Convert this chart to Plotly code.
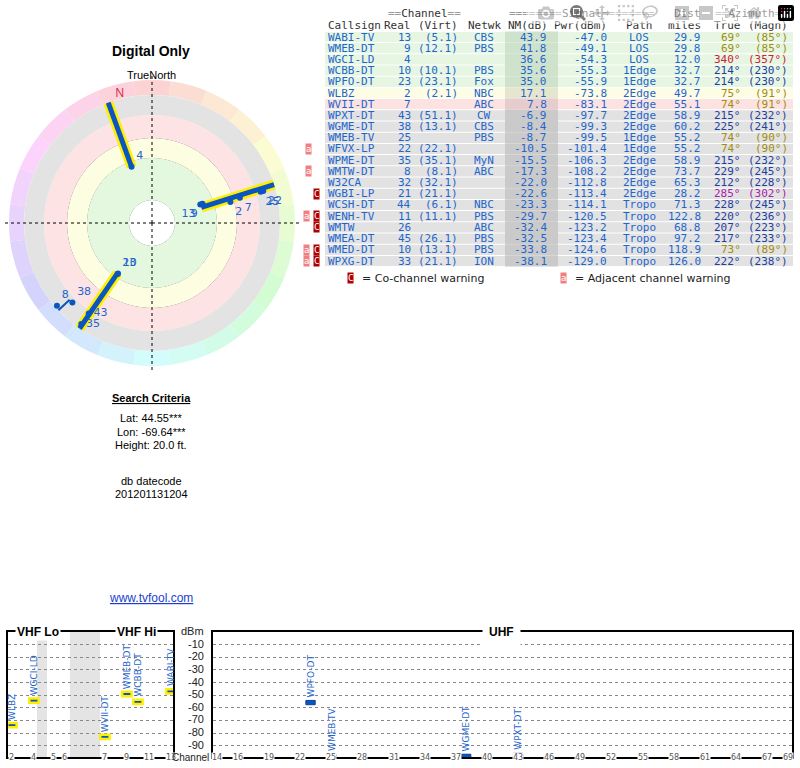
import colorsys
import plotly.graph_objects as go

# station table data
callsign = ["WABI-TV", "WMEB-DT", "WGCI-LD", "WCBB-DT", "WPFO-DT", "WLBZ", "WVII-DT", "WPXT-DT",
            "WGME-DT", "WMEB-TV", "WFVX-LP", "WPME-DT", "WMTW-DT", "W32CA", "WGBI-LP", "WCSH-DT",
            "WENH-TV", "WMTW", "WMEA-DT", "WMED-DT", "WPXG-DT"]
real_ch = [13, 9, 4, 10, 23, 2, 7, 43, 38, 25, 22, 35, 8, 32, 21, 44, 11, 26, 45, 10, 33]
virt_ch = ["(5.1)", "(12.1)", "", "(10.1)", "(23.1)", "(2.1)", "", "(51.1)", "(13.1)", "", "(22.1)",
           "(35.1)", "(8.1)", "(32.1)", "(21.1)", "(6.1)", "(11.1)", "", "(26.1)", "(13.1)", "(21.1)"]
network = ["CBS", "PBS", "", "PBS", "Fox", "NBC", "ABC", "CW", "CBS", "PBS", "", "MyN", "ABC", "", "",
           "NBC", "PBS", "ABC", "PBS", "PBS", "ION"]
nm_db = [43.9, 41.8, 36.6, 35.6, 35.0, 17.1, 7.8, -6.9, -8.4, -8.7, -10.5, -15.5, -17.3, -22.0, -22.6,
         -23.3, -29.7, -32.4, -32.5, -33.8, -38.1]
pwr_dbm = [-47.0, -49.1, -54.3, -55.3, -55.9, -73.8, -83.1, -97.7, -99.3, -99.5, -101.4, -106.3, -108.2,
           -112.8, -113.4, -114.1, -120.5, -123.2, -123.4, -124.6, -129.0]
path = ["LOS", "LOS", "LOS", "1Edge", "1Edge", "2Edge", "2Edge", "2Edge", "2Edge", "1Edge", "1Edge",
        "2Edge", "2Edge", "2Edge", "2Edge", "Tropo", "Tropo", "Tropo", "Tropo", "Tropo", "Tropo"]
dist_mi = [29.9, 29.8, 12.0, 32.7, 32.7, 49.7, 55.1, 58.9, 60.2, 55.2, 55.2, 58.9, 73.7, 65.3, 28.2,
           71.3, 122.8, 68.8, 97.2, 118.9, 126.0]
az_true = [69, 69, 340, 214, 214, 75, 74, 215, 225, 74, 74, 215, 229, 212, 285, 228, 220, 207, 217, 73, 222]
az_magn = [85, 85, 357, 230, 230, 91, 91, 232, 241, 90, 90, 232, 245, 228, 302, 245, 236, 223, 233, 89, 238]
warnings = ["", "", "", "", "", "", "", "", "", "", "a", "", "a", "", "C", "", "aC", "C", "", "aC", "aC"]

BLUE = "#1f66cc"
W, H = 800, 768


def X(px):
    return px / W


def Y(py):
    return 1 - py / H


fig = go.Figure()
shapes, ann = [], []


def text(x, y, s, size=11, color="black", xa="center", font="Liberation Sans", **kw):
    ann.append(dict(x=X(x), y=Y(y), xref="paper", yref="paper", text=s, showarrow=False,
                    xanchor=xa, yanchor="middle", font=dict(size=size, color=color, family=font), **kw))


# ---------- polar chart ----------
def radius(nm):
    return 100 - 1.1 * nm if nm >= 0 else 100 - 1.5 * nm


def hue_color(az):
    r, g, b = colorsys.hls_to_rgb((az % 360) / 360, 0.91, 0.9)
    return "rgb(%d,%d,%d)" % (r * 255, g * 255, b * 255)


sectors = list(range(0, 360, 15))
fig.add_trace(go.Barpolar(theta=sectors, r=[15] * 24, base=128, width=15,
                          marker=dict(color=[hue_color(a) for a in sectors], line_width=0), hoverinfo="skip"))
for r0, r1, col in [(0, 23, "white"), (23, 65, "#e4f8e0"), (65, 85, "#fdfde2"),
                    (85, 108, "#fde3e3"), (108, 128, "#e3e3e3")]:
    fig.add_trace(go.Barpolar(theta=[0], r=[r1 - r0], base=r0, width=360,
                              marker=dict(color=col, line_width=0), hoverinfo="skip"))
for a in [0, 90, 180, 270]:
    fig.add_trace(go.Scatterpolar(theta=[a, a], r=[0, 150], mode="lines",
                                  line=dict(color="black", width=1, dash="dot"), hoverinfo="skip"))

# stations on the polar plot (NM above -20 dB), grouped by direction
shown = [i for i in range(len(callsign)) if nm_db[i] > -20]
groups = []
for i in sorted(shown, key=lambda k: az_true[k]):
    if groups and az_true[i] - az_true[groups[-1][-1]] <= 6:
        groups[-1].append(i)
    else:
        groups.append([i])
for g in groups:
    az = sum(az_true[i] for i in g) / len(g)
    rmin = min(radius(nm_db[i]) for i in g)
    strong = max(nm_db[i] for i in g) > 0
    if strong:
        fig.add_trace(go.Scatterpolar(theta=[az, az], r=[rmin, 128], mode="lines",
                                      line=dict(color="#ffee00", width=10), hoverinfo="skip"))
    fig.add_trace(go.Scatterpolar(theta=[az, az], r=[rmin, 128], mode="lines",
                                  line=dict(color="#0a55c0", width=5 if strong else 2), hoverinfo="skip"))


def label_pos(i):
    a = az_true[i]
    if 60 < a < 90:
        return "bottom left" if nm_db[i] > 30 else "bottom right"
    if 200 < a < 220:
        return "top right" if nm_db[i] > 0 else "middle right"
    return "top right"


fig.add_trace(go.Scatterpolar(
    theta=[az_true[i] for i in shown], r=[radius(nm_db[i]) for i in shown], mode="markers+text",
    marker=dict(color="#0a55c0", size=6), text=[str(real_ch[i]) for i in shown],
    textposition=[label_pos(i) for i in shown],
    textfont=dict(color=BLUE, size=11, family="DejaVu Sans"), hoverinfo="skip"))
fig.add_trace(go.Scatterpolar(theta=[346], r=[133], mode="text", text=["N"],
                              textfont=dict(color="#dd2244", size=12), hoverinfo="skip"))

fig.update_layout(polar=dict(
    domain=dict(x=[X(2), X(302)], y=[Y(373), Y(73)]), bgcolor="rgba(0,0,0,0)", hole=0,
    radialaxis=dict(range=[0, 150], tickvals=[23, 45, 65, 85, 105, 125], showticklabels=False,
                    ticks="", showline=False, gridcolor="#444", gridwidth=1),
    angularaxis=dict(rotation=90, direction="clockwise", showgrid=False, showline=False,
                     showticklabels=False, ticks="")), barmode="overlay")

text(151, 51, "<b>Digital Only</b>", 14)
text(151, 75, "TrueNorth", 11)
text(151, 398, "<b><u>Search Criteria</u></b>", 11)
text(151, 418, "Lat: 44.55***", 11)
text(151, 432, "Lon: -69.64***", 11)
text(151, 445, "Height: 20.0 ft.", 11)
text(151, 481, "db datecode", 11)
text(151, 494, "201201131204", 11)
text(151, 598, "<u>www.tvfool.com</u>", 12, "#1a3fd0")

# ---------- table ----------
MONO = "DejaVu Sans Mono"
g_ = lambda s: '<span style="color:#999">%s</span>' % s
text(424, 13, g_("==") + "Channel" + g_("=="), 11, "#333", font=MONO)
text(582, 13, g_("========") + "Signal" + g_("========"), 11, "#333", font=MONO)
text(703, 13, "Dist", 11, "#333", "right", font=MONO)
text(790, 13, g_("==") + "Azimuth" + g_("=="), 11, "#333", "right", font=MONO)
for s, x, xa in [("Callsign", 326, "left"), ("Real", 413, "right"), ("(Virt)", 460, "right"),
                 ("Netwk", 484, "center"), ("NM(dB)", 550, "right"), ("Pwr(dBm)", 609, "right"),
                 ("Path", 639, "center"), ("miles", 703, "right"), ("True", 743, "right"),
                 ("(Magn)", 790, "right")]:
    text(x, 25, s, 11, "#333", xa, font=MONO)


def row_bg(nm):
    if nm >= 25:
        return "#e6f6e2", "#cfe2cc"
    if nm >= 15:
        return "#fdfde6", "#e6e6d0"
    if nm >= 0:
        return "#fde2e2", "#e6cccc"
    return "#e2e2e2", "#cacaca"


def az_color(a):
    if 60 < a < 90:
        return "#a08c10"
    if a > 330:
        return "#cc2233"
    if 270 < a < 300:
        return "#aa22aa"
    return "#1f3fa0"


for i in range(len(callsign)):
    yc = 37 + i * 11.2
    bg, nmbg = row_bg(nm_db[i])
    shapes.append(dict(type="rect", xref="paper", yref="paper", x0=X(325), x1=X(793),
                       y0=Y(yc + 5.1), y1=Y(yc - 5.1), fillcolor=bg, line_width=0, layer="below"))
    shapes.append(dict(type="rect", xref="paper", yref="paper", x0=X(505), x1=X(558),
                       y0=Y(yc + 5.6), y1=Y(yc - 5.6), fillcolor=nmbg, line_width=0, layer="below"))
    cells = [(callsign[i], 326, "left"), (str(real_ch[i]), 413, "right"), (virt_ch[i], 460, "right"),
             (network[i], 484, "center"), ("%.1f" % nm_db[i], 549, "right"),
             ("%.1f" % pwr_dbm[i], 609, "right"), (path[i], 639, "center"),
             ("%.1f" % dist_mi[i], 703, "right")]
    for s, x, xa in cells:
        if s:
            text(x, yc, s, 11, BLUE, xa, font=MONO)
    c = az_color(az_true[i])
    text(743, yc, "%d°" % az_true[i], 11, c, "right", font=MONO)
    text(790, yc, "(%d°)" % az_magn[i], 11, c, "right", font=MONO)
    w = warnings[i]
    if "C" in w:
        text(316, yc, "C", 9, "white", font=MONO, bgcolor="#b00000", borderpad=0)
    if "a" in w:
        text(306 if "C" in w else 308, yc, "a", 9, "white", font=MONO, bgcolor="#f08080", borderpad=0)

text(350, 278, "C", 9, "white", font=MONO, bgcolor="#b00000", borderpad=0)
text(360, 278, "= Co-channel warning", 11, "#222", "left", font="DejaVu Sans")
text(563, 278, "a", 9, "white", font=MONO, bgcolor="#f08080", borderpad=0)
text(573, 278, "= Adjacent channel warning", 11, "#222", "left", font="DejaVu Sans")

# ---------- spectrum bars ----------
vhf_ticks = [2, 4, 5, 6, 7, 9, 11, 13]
uhf_ticks = [14, 16, 19, 22, 25, 28, 31, 34, 37, 40, 43, 46, 49, 52, 55, 58, 61, 64, 67, 69]


def vpos(ch):
    if ch <= 4:
        return ch
    if ch <= 6:
        return ch + 0.8
    return ch + 3.45


plotted = [i for i in range(len(callsign)) if pwr_dbm[i] >= -100]
vhf = [i for i in plotted if real_ch[i] <= 13]
uhf = [i for i in plotted if real_ch[i] >= 14]

fig.add_trace(go.Bar(x=[vpos(real_ch[i]) for i in vhf], y=[3.4] * len(vhf),
                     base=[pwr_dbm[i] - 1.7 for i in vhf], width=0.85, cliponaxis=False,
                     marker=dict(color="#0a55c0", line=dict(color="#ffee00", width=2.5)),
                     xaxis="x", yaxis="y", hoverinfo="skip"))
fig.add_trace(go.Bar(x=[real_ch[i] for i in uhf], y=[3.4] * len(uhf),
                     base=[max(pwr_dbm[i], -98.5) - 1.7 for i in uhf], width=0.9, cliponaxis=False,
                     marker=dict(color="#0a55c0", line=dict(color="#083f99", width=1)),
                     xaxis="x2", yaxis="y2", hoverinfo="skip"))
for idx, xr, yr, fx in [(vhf, "x", "y", vpos), (uhf, "x2", "y2", lambda c: c)]:
    for i in idx:
        ann.append(dict(x=fx(real_ch[i]), y=max(pwr_dbm[i], -98.5) + 2.5, xref=xr, yref=yr,
                        text=callsign[i], textangle=-90, showarrow=False, xanchor="center",
                        yanchor="bottom", font=dict(size=9, color=BLUE, family="DejaVu Sans")))

ax = dict(showline=True, mirror=True, linecolor="black", linewidth=1.5, showgrid=False,
          ticks="", showticklabels=False, zeroline=False)
ay = dict(ax, range=[-99, 0], tickvals=list(range(-90, 0, 10)), showgrid=True,
          gridcolor="#888", griddash="dot", gridwidth=1)
fig.update_layout(
    xaxis=dict(ax, domain=[X(8), X(173)], range=[1.64, 16.64], anchor="y"),
    yaxis=dict(ay, domain=[Y(757), Y(632)], anchor="x"),
    xaxis2=dict(ax, domain=[X(213), X(792)], range=[13.6, 69.4], anchor="y2"),
    yaxis2=dict(ay, domain=[Y(757), Y(632)], anchor="x2"),
)
for x0, x1 in [(4.27, 5.18), (7.27, 10.0)]:
    shapes.append(dict(type="rect", xref="x", yref="y", x0=x0, x1=x1, y0=-99, y1=0,
                       fillcolor="#e4e4e4", line_width=0, layer="below"))
for ch in vhf_ticks:
    ann.append(dict(x=vpos(ch), y=-99, xref="x", yref="y", text=str(ch), showarrow=False,
                    bgcolor="white", borderpad=0, font=dict(size=8, color="#555", family="DejaVu Sans")))
for ch in uhf_ticks:
    ann.append(dict(x=ch, y=-99, xref="x2", yref="y2", text=str(ch), showarrow=False,
                    bgcolor="white", borderpad=0, font=dict(size=8, color="#555", family="DejaVu Sans")))

text(38, 632, "<b>VHF Lo</b>", 12, bgcolor="white")
text(136, 632, "<b>VHF Hi</b>", 12, bgcolor="white")
text(501, 632, "<b>UHF</b>", 12, bgcolor="white", borderpad=6)
text(206, 631, "dBm", 11, "#222", "right")
for v in range(-10, -100, -10):
    text(206, 631 + (-v) * 1.263, str(v), 11, "#222", "right")
text(211, 757, "Channel", 10, "#222", "right")

fig.update_layout(width=W, height=H, margin=dict(l=0, r=0, t=0, b=0), showlegend=False,
                  paper_bgcolor="white", plot_bgcolor="white", shapes=shapes, annotations=ann)
fig.write_html("out.html", post_script="document.body.style.margin='0';")
